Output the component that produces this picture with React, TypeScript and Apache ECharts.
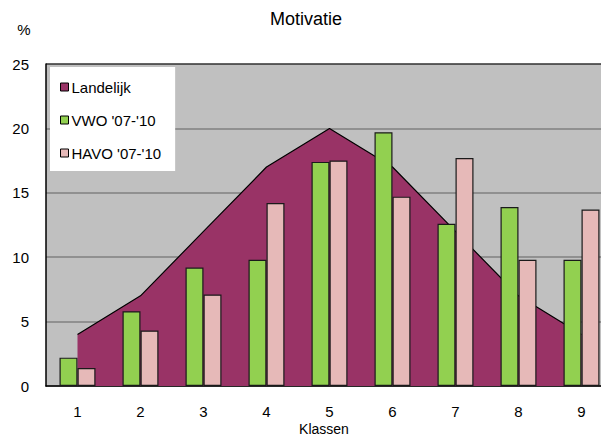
import React, { useEffect, useRef } from "react";
import * as echarts from "echarts";

const categories = ["1", "2", "3", "4", "5", "6", "7", "8", "9"];
const landelijk = [4, 7, 12, 17, 20, 17, 12, 7, 4];
const vwo = [2.2, 5.8, 9.2, 9.8, 17.4, 19.7, 12.6, 13.9, 9.8];
const havo = [1.4, 4.3, 7.1, 14.2, 17.5, 14.7, 17.7, 9.8, 13.7];
const seriesNames = ["Landelijk", "VWO '07-'10", "HAVO '07-'10"];
const chartTitle = "Motivatie";
const yUnit = "%";
const xTitle = "Klassen";

const FONT = "'Liberation Sans', Arial, sans-serif";

export default function App() {
  const ref = useRef<HTMLDivElement>(null);
  useEffect(() => {
    if (!ref.current) return;
    const chart = echarts.init(ref.current, undefined, { renderer: "svg" });
    chart.setOption({
      animation: false,
      backgroundColor: "#ffffff",
      textStyle: { fontFamily: FONT },
      grid: {
        left: 46,
        top: 64,
        bottom: 50,
        right: 0,
        show: true,
        backgroundColor: "#c0c0c0",
        borderWidth: 0,
      },
      legend: {
        data: seriesNames,
        orient: "vertical",
        left: 50,
        top: 67,
        backgroundColor: "#ffffff",
        padding: [12, 14, 10, 10],
        itemGap: 17,
        itemWidth: 8,
        itemHeight: 8,
        icon: "rect",
        itemStyle: { borderColor: "#000", borderWidth: 1 },
        textStyle: { fontFamily: FONT, fontSize: 15, color: "#000", padding: [0, 0, 0, -2], lineHeight: 16 },
      },
      xAxis: {
        type: "category",
        data: categories,
        boundaryGap: true,
        axisLine: { show: true, lineStyle: { color: "#000", width: 1.5 } },
        axisTick: { show: false },
        axisLabel: { color: "#000", fontSize: 15, lineHeight: 15, fontFamily: FONT, margin: 18 },
        splitLine: { show: false },
      },
      yAxis: {
        type: "value",
        min: 0,
        max: 25,
        interval: 5,
        axisLine: { show: true, lineStyle: { color: "#000", width: 1.5 } },
        axisTick: { show: false },
        axisLabel: { color: "#000", fontSize: 15, fontFamily: FONT, margin: 17 },
        splitLine: {
          show: true,
          lineStyle: { color: ["#808080", "#808080", "#808080", "#808080", "#808080", "#303030"], width: 1.5 },
        },
      },
      graphic: [
        {
          type: "text",
          x: 306,
          y: 19,
          style: { text: chartTitle, fontSize: 18, fontFamily: FONT, fill: "#000", align: "center", verticalAlign: "middle" },
        },
        {
          type: "text",
          x: 24,
          y: 29,
          style: { text: yUnit, fontSize: 15, fontFamily: FONT, fill: "#000", align: "center", verticalAlign: "middle" },
        },
        {
          type: "text",
          x: 324,
          y: 429,
          style: { text: xTitle, fontSize: 14, fontFamily: FONT, fill: "#000", align: "center", verticalAlign: "middle" },
        },
      ],
      series: [
        {
          name: seriesNames[0],
          type: "line",
          data: landelijk,
          symbol: "none",
          color: "#993366",
          lineStyle: { color: "#000", width: 1.2 },
          areaStyle: { color: "#993366", opacity: 1 },
          z: 2,
        },
        {
          name: seriesNames[1],
          type: "bar",
          data: vwo,
          barWidth: 18,
          barGap: "0%",
          color: "#92d050",
          itemStyle: { color: "#92d050", borderColor: "#1a1a1a", borderWidth: 1.2 },
          z: 3,
        },
        {
          name: seriesNames[2],
          type: "bar",
          data: havo,
          barWidth: 18,
          barGap: "0%",
          color: "#e6b9b8",
          itemStyle: { color: "#e6b9b8", borderColor: "#1a1a1a", borderWidth: 1.2 },
          z: 3,
        },
      ],
    });
    return () => chart.dispose();
  }, []);
  return (
    <div style={{ position: "fixed", left: 0, top: 0, width: 601, height: 436, overflow: "hidden" }}>
      <div ref={ref} style={{ width: 613, height: 436 }} />
    </div>
  );
}
